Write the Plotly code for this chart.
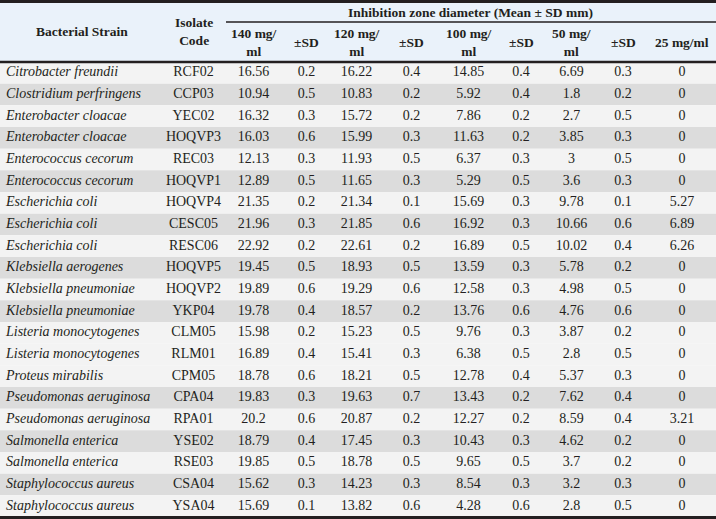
import plotly.graph_objects as go

strains = ["Citrobacter freundii", "Clostridium perfringens", "Enterobacter cloacae", "Enterobacter cloacae",
           "Enterococcus cecorum", "Enterococcus cecorum", "Escherichia coli", "Escherichia coli",
           "Escherichia coli", "Klebsiella aerogenes", "Klebsiella pneumoniae", "Klebsiella pneumoniae",
           "Listeria monocytogenes", "Listeria monocytogenes", "Proteus mirabilis", "Pseudomonas aeruginosa",
           "Pseudomonas aeruginosa", "Salmonella enterica", "Salmonella enterica", "Staphylococcus aureus",
           "Staphylococcus aureus"]
codes = ["RCF02", "CCP03", "YEC02", "HOQVP3", "REC03", "HOQVP1", "HOQVP4", "CESC05", "RESC06", "HOQVP5",
         "HOQVP2", "YKP04", "CLM05", "RLM01", "CPM05", "CPA04", "RPA01", "YSE02", "RSE03", "CSA04", "YSA04"]
mean_140 = [16.56, 10.94, 16.32, 16.03, 12.13, 12.89, 21.35, 21.96, 22.92, 19.45, 19.89,
            19.78, 15.98, 16.89, 18.78, 19.83, 20.2, 18.79, 19.85, 15.62, 15.69]
sd_140 = [0.2, 0.5, 0.3, 0.6, 0.3, 0.5, 0.2, 0.3, 0.2, 0.5, 0.6, 0.4, 0.2, 0.4, 0.6, 0.3, 0.6, 0.4, 0.5, 0.3, 0.1]
mean_120 = [16.22, 10.83, 15.72, 15.99, 11.93, 11.65, 21.34, 21.85, 22.61, 18.93, 19.29,
            18.57, 15.23, 15.41, 18.21, 19.63, 20.87, 17.45, 18.78, 14.23, 13.82]
sd_120 = [0.4, 0.2, 0.2, 0.3, 0.5, 0.3, 0.1, 0.6, 0.2, 0.5, 0.6, 0.2, 0.5, 0.3, 0.5, 0.7, 0.2, 0.3, 0.5, 0.3, 0.6]
mean_100 = [14.85, 5.92, 7.86, 11.63, 6.37, 5.29, 15.69, 16.92, 16.89, 13.59, 12.58,
            13.76, 9.76, 6.38, 12.78, 13.43, 12.27, 10.43, 9.65, 8.54, 4.28]
sd_100 = [0.4, 0.4, 0.2, 0.2, 0.3, 0.5, 0.3, 0.3, 0.5, 0.3, 0.3, 0.6, 0.3, 0.5, 0.4, 0.2, 0.2, 0.3, 0.5, 0.3, 0.6]
mean_50 = [6.69, 1.8, 2.7, 3.85, 3, 3.6, 9.78, 10.66, 10.02, 5.78, 4.98,
           4.76, 3.87, 2.8, 5.37, 7.62, 8.59, 4.62, 3.7, 3.2, 2.8]
sd_50 = [0.3, 0.2, 0.5, 0.3, 0.5, 0.3, 0.1, 0.6, 0.4, 0.2, 0.5, 0.6, 0.2, 0.5, 0.3, 0.4, 0.4, 0.2, 0.2, 0.3, 0.5]
mean_25 = [0, 0, 0, 0, 0, 0, 5.27, 6.89, 6.26, 0, 0, 0, 0, 0, 0, 0, 3.21, 0, 0, 0, 0]

value_cols = [mean_140, sd_140, mean_120, sd_120, mean_100, sd_100, mean_50, sd_50, mean_25]
col_titles = ["Bacterial Strain", "Isolate<br>Code", "140 mg/<br>ml", "±SD", "120 mg/<br>ml", "±SD",
              "100 mg/<br>ml", "±SD", "50 mg/<br>ml", "±SD", "25 mg/ml"]
group_title = "Inhibition zone diameter (Mean ± SD mm)"
shaded_rows = [1, 3, 5, 7, 9, 11, 15, 17, 19]

# layout in pixels
W, H = 716, 519
col_widths = [163, 61, 59, 47, 53, 57, 57, 48, 53, 50, 68]
edges = [0]
for w in col_widths:
    edges.append(edges[-1] + w)
centers = [(edges[i] + edges[i + 1]) / 2 for i in range(len(col_widths))]
head_split = 22
head_bottom = 62
body_bottom = 517
row_h = (body_bottom - head_bottom) / len(strains)
row_y = [head_bottom + (i + 0.5) * row_h for i in range(len(strains))]

ink = "#231f20"
serif = "Liberation Serif, Times New Roman, serif"

fig = go.Figure()
shapes = [dict(type="rect", x0=0, x1=W, y0=0, y1=head_bottom, fillcolor="#eaf2fa", line_width=0, layer="below")]
for i in range(len(strains)):
    shapes.append(dict(type="rect", x0=0, x1=W, y0=head_bottom + i * row_h, y1=head_bottom + (i + 1) * row_h,
                       fillcolor="#dcdcdc" if i in shaded_rows else "#f3f3f3", line_width=0, layer="below"))
shapes += [
    dict(type="line", x0=0, x1=W, y0=1.5, y1=1.5, line=dict(color=ink, width=3)),
    dict(type="line", x0=edges[2] + 2, x1=W, y0=head_split, y1=head_split, line=dict(color=ink, width=1.5)),
    dict(type="line", x0=0, x1=W, y0=head_bottom, y1=head_bottom, line=dict(color=ink, width=2.5)),
    dict(type="line", x0=0, x1=W, y0=body_bottom + 0.5, y1=body_bottom + 0.5, line=dict(color=ink, width=3)),
]

# body text
fig.add_trace(go.Scatter(x=[6] * len(strains), y=row_y, text=strains, mode="text", textposition="middle right",
                         textfont=dict(family=serif, size=14, color=ink, style="italic"), hoverinfo="skip"))
fig.add_trace(go.Scatter(x=[centers[1]] * len(codes), y=row_y, text=codes, mode="text",
                         textfont=dict(family=serif, size=14, color=ink), hoverinfo="skip"))
for j, vals in enumerate(value_cols):
    fig.add_trace(go.Scatter(x=[centers[j + 2]] * len(vals), y=row_y, text=[f"{v:g}" for v in vals],
                             mode="text", textfont=dict(family=serif, size=14, color=ink), hoverinfo="skip"))

# header text
annotations = [dict(x=(edges[2] + W) / 2, y=head_split / 2 + 1, text="<b>" + group_title + "</b>",
                    showarrow=False, font=dict(family=serif, size=13.5, color=ink))]
for j, t in enumerate(col_titles):
    ymid = head_bottom / 2 if j < 2 else (head_split + head_bottom) / 2
    annotations.append(dict(x=centers[j], y=ymid, text="<b>" + t + "</b>", showarrow=False,
                            font=dict(family=serif, size=13.5, color=ink)))

fig.update_layout(
    width=W, height=H, margin=dict(l=0, r=0, t=0, b=0),
    plot_bgcolor="white", paper_bgcolor="white", showlegend=False,
    xaxis=dict(range=[0, W], visible=False, fixedrange=True),
    yaxis=dict(range=[H, 0], visible=False, fixedrange=True),
    shapes=shapes, annotations=annotations,
)
fig.write_html("out.html", config={"displayModeBar": False},
               post_script="document.body.style.margin='0';document.body.style.overflow='hidden';")
